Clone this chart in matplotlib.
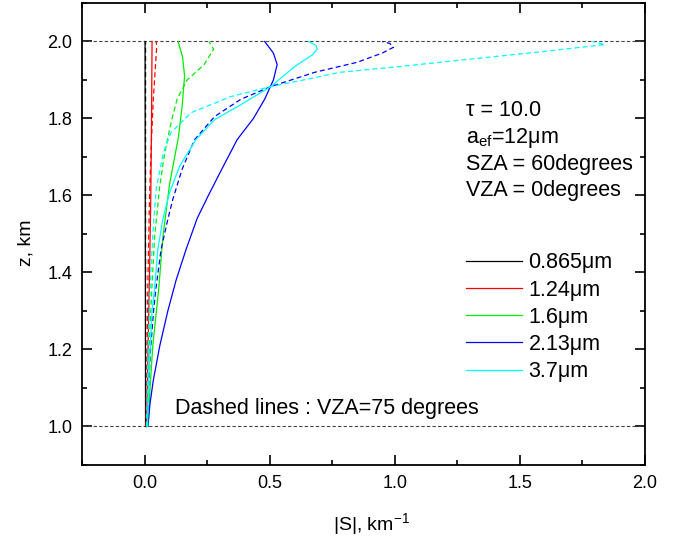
import matplotlib
matplotlib.use("Agg")
import matplotlib.pyplot as plt
from matplotlib.ticker import MultipleLocator

plt.rcParams['font.family'] = ['Liberation Sans', 'DejaVu Sans']
plt.rcParams['mathtext.fontset'] = 'custom'
plt.rcParams['mathtext.rm'] = 'Liberation Sans'
plt.rcParams['mathtext.it'] = 'Liberation Sans'

# -------------------------------
# DATA
# -------------------------------
wavelengths = ['0.865\u03bcm', '1.24\u03bcm', '1.6\u03bcm', '2.13\u03bcm', '3.7\u03bcm']
colors = ['black', 'red', '#00ee00', 'blue', 'cyan']

# VZA = 0 degrees (solid)
z_0865 = [1.0, 1.5, 2.0]
s_0865 = [0.004, 0.003, 0.002]
z_124 = [1.0, 1.2, 1.4, 1.6, 1.8, 1.9, 2.0]
s_124 = [0.008, 0.014, 0.020, 0.025, 0.028, 0.029, 0.030]
z_16 = [1.0, 1.1, 1.21, 1.36, 1.49, 1.63, 1.75, 1.83, 1.91, 1.96, 2.0]
s_16 = [0.015, 0.022, 0.033, 0.057, 0.073, 0.100, 0.135, 0.150, 0.160, 0.152, 0.134]
z_213 = [1.0, 1.06, 1.12, 1.21, 1.3, 1.38, 1.46, 1.54, 1.6, 1.67, 1.745, 1.8, 1.85,
         1.9, 1.94, 1.97, 2.0]
s_213 = [0.013, 0.022, 0.035, 0.061, 0.093, 0.126, 0.166, 0.210, 0.255, 0.310, 0.370,
         0.435, 0.480, 0.515, 0.530, 0.515, 0.480]
z_37 = [1.0, 1.1, 1.2, 1.3, 1.356, 1.46, 1.538, 1.607, 1.676, 1.745, 1.797, 1.836,
        1.883, 1.935, 1.965, 1.98, 1.99, 2.0]
s_37 = [0.012, 0.016, 0.022, 0.030, 0.040, 0.053, 0.073, 0.100, 0.140, 0.205, 0.280,
        0.385, 0.505, 0.600, 0.670, 0.690, 0.685, 0.656]

# VZA = 75 degrees (dashed)
zd_0865 = [1.0, 1.5, 2.0]
sd_0865 = [0.005, 0.004, 0.004]
zd_124 = [1.0, 1.2, 1.4, 1.6, 1.75, 1.85, 1.93, 1.98, 2.0]
sd_124 = [0.006, 0.010, 0.014, 0.020, 0.028, 0.035, 0.043, 0.048, 0.047]
zd_16 = [1.0, 1.2, 1.37, 1.49, 1.62, 1.7, 1.75, 1.8, 1.85, 1.9, 1.94, 1.98, 2.0]
sd_16 = [0.010, 0.018, 0.030, 0.040, 0.060, 0.078, 0.093, 0.110, 0.130, 0.170, 0.238,
         0.276, 0.257]
zd_213 = [1.0, 1.1, 1.2, 1.3, 1.356, 1.46, 1.538, 1.59, 1.668, 1.745, 1.805, 1.85,
          1.883, 1.92, 1.946, 1.97, 1.985, 1.995, 2.0]
sd_213 = [0.010, 0.016, 0.024, 0.036, 0.045, 0.066, 0.093, 0.113, 0.150, 0.200, 0.280,
          0.385, 0.505, 0.680, 0.850, 0.950, 0.995, 0.980, 0.950]
zd_37 = [1.0, 1.2, 1.4, 1.52, 1.62, 1.71, 1.763, 1.815, 1.857, 1.883, 1.906, 1.92,
         1.935, 1.946, 1.973, 1.992, 2.0]
sd_37 = [0.008, 0.014, 0.025, 0.035, 0.047, 0.075, 0.105, 0.186, 0.345, 0.505, 0.680,
         0.780, 1.020, 1.180, 1.580, 1.840, 1.790]

solid = [(z_0865, s_0865), (z_124, s_124), (z_16, s_16), (z_213, s_213), (z_37, s_37)]
dashed = [(zd_0865, sd_0865), (zd_124, sd_124), (zd_16, sd_16), (zd_213, sd_213), (zd_37, sd_37)]

# -------------------------------
# PLOT
# -------------------------------
fig = plt.figure(figsize=(6.81, 5.36), dpi=100)
ax = fig.add_axes([0.1204, 0.1325, 0.8267, 0.8619])

ax.axhline(2.0, color='#444444', lw=0.8, ls=(0, (3, 2)))
ax.axhline(1.0, color='#444444', lw=0.8, ls=(0, (3, 2)))

handles = []
for (z, s), (zd, sd), c, lab in zip(solid, dashed, colors, wavelengths):
    h, = ax.plot(s, z, color=c, lw=0.9, label=lab)
    ax.plot(sd, zd, color=c, lw=0.9, ls=(0, (4, 2.5)))
    handles.append(h)

ax.set_xlim(-0.25, 2.0)
ax.set_ylim(0.9, 2.1)
ax.xaxis.set_major_locator(MultipleLocator(0.5))
ax.xaxis.set_minor_locator(MultipleLocator(0.25))
ax.yaxis.set_major_locator(MultipleLocator(0.2))
ax.yaxis.set_minor_locator(MultipleLocator(0.1))
ax.tick_params(which='both', direction='in', top=True, right=True, width=1.2)
ax.tick_params(which='major', length=7, labelsize=13, pad=7)
ax.tick_params(which='minor', length=3.5)
for sp in ax.spines.values():
    sp.set_linewidth(1.3)

ax.set_xlabel('|S|, km$^{-1}$', fontsize=14)
ax.set_ylabel('z, km', fontsize=14)
ax.xaxis.set_label_coords(0.515, -0.1)
ax.yaxis.set_label_coords(-0.085, 0.48)

ax.legend(handles=handles, loc='center left', bbox_to_anchor=(0.682, 0.3197),
          frameon=False, fontsize=15.5, handlelength=2.6, handletextpad=0.3,
          labelspacing=0.29, borderpad=0, borderaxespad=0)

ax.text(0.682, 0.755, '\u03c4 = 10.0', transform=ax.transAxes, fontsize=15.5)
ax.text(0.682, 0.697, 'a$_{\\mathregular{ef}}$=12\u03bcm', transform=ax.transAxes, fontsize=15.5)
ax.text(0.682, 0.639, 'SZA = 60degrees', transform=ax.transAxes, fontsize=15.5)
ax.text(0.682, 0.582, 'VZA = 0degrees', transform=ax.transAxes, fontsize=15.5)
ax.text(0.165, 0.110, 'Dashed lines : VZA=75 degrees', transform=ax.transAxes, fontsize=15.5)

fig.savefig('out.png', dpi=100)
